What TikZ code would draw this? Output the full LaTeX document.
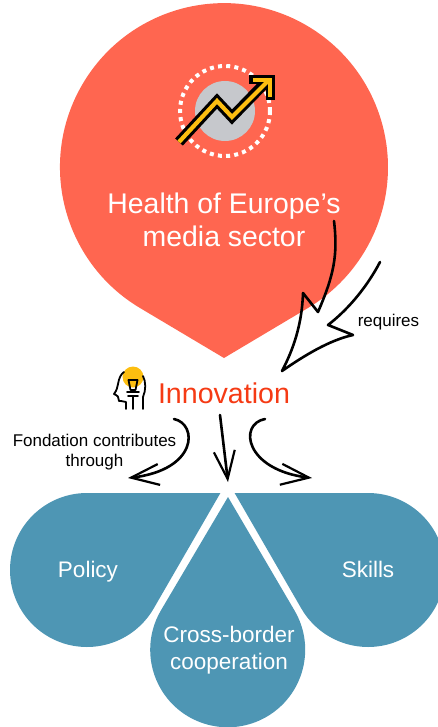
\documentclass[tikz,border=0pt]{standalone}
\usepackage{fontspec}
\setmainfont{Liberation Sans}
\usepackage{xcolor}
\usetikzlibrary{positioning,calc,arrows.meta}
\definecolor{healthred}{HTML}{FF6650}
\definecolor{dropblue}{HTML}{4E96B4}
\definecolor{innored}{HTML}{F53A14}
\definecolor{iconyellow}{HTML}{FDBE10}
\definecolor{icongrey}{HTML}{C6C8CC}

\begin{document}
\begin{tikzpicture}[
    x=1pt, y=-1pt,
    redtext/.style={text=white, align=center, font=\fontsize{28.4}{33}\selectfont},
    bluetext/.style={text=white, align=center, font=\fontsize{22.5}{27.5}\selectfont},
    blacktext/.style={text=black, align=center, font=\fontsize{17}{20.5}\selectfont},
    inktext/.style={text=innored, font=\fontsize{28.6}{34}\selectfont},
    blueDrop/.style={fill=dropblue},
    handline/.style={draw=black, line width=2.6pt, line cap=round, line join=round},
    handarrow/.style={handline, -{Straight Barb[length=28pt, width=21pt, line width=2.2pt]}},
    iconline/.style={draw=black, line width=1.8pt, line cap=round, line join=round}
]
    \clip (0,0) rectangle (438,727);

    % big red drop
    \fill[healthred] (224,358) -- (140,308) arc[start angle=120.8, delta angle=298.4, radius=164] -- cycle;

    % growth icon
    \fill[icongrey] (225,111) circle (30);
    \draw[white, line width=4pt, dash pattern=on 4pt off 4.2pt] (225,111) circle (45);
    \draw[black, line width=10.5pt, miter limit=10] (179,142) -- (217,101) -- (232,117) -- (266,82);
    \draw[black, line width=9pt] (249,80) -- (270,80) -- (270,100);
    \draw[iconyellow, line width=4.2pt, miter limit=10] (179,142) -- (217,101) -- (232,117) -- (268,81);
    \draw[iconyellow, line width=4.2pt] (253,80) -- (270,80) -- (270,97);

    \node[redtext] (health) at (224,219.5) {Health of Europe’s\\media sector};

    % three blue drops
    \fill[blueDrop] (220.4,493) -- (87,493) arc[start angle=270, delta angle=-240, radius=77] -- cycle;
    \fill[blueDrop] (234.6,493) -- (368,493) arc[start angle=270, delta angle=240, radius=77] -- cycle;
    \fill[blueDrop] (228,497) -- (294.8,611) arc[start angle=-30, delta angle=240, radius=77.5] -- cycle;

    \node[inktext, anchor=base] (innovation) at (224,403) {Innovation};
    \node[blacktext, anchor=base] (requires) at (388.5,326) {requires};
    \node[blacktext] (through) at (94.5,452) {Fondation contributes\\through};
    \node[bluetext, anchor=base] (policy) at (88,577) {Policy};
    \node[bluetext, anchor=base] (skills) at (368,577) {Skills};
    \node[bluetext] (cross) at (229,650) {Cross-border\\cooperation};

    % head with bulb
    \fill[iconyellow] (133,377) circle (10.5);
    \draw[iconline] (128.5,380) -- (137.5,380) -- (135.5,390) -- (130.5,390) -- cycle;
    \draw[iconline] (127,392) -- (139,392);
    \draw[iconline] (128,396) -- (138,396);
    \draw[iconline] (133,396) -- (133,409);
    \draw[iconline] (126,409) -- (126,402) -- (121,401) -- (119,401) .. controls (118,397) and (118,395) .. (116,395)
        -- (114,394) .. controls (117,390) and (117,388) .. (118,384) .. controls (119,378) and (121,374) .. (124,372);
    \draw[iconline] (143,409) -- (143,397) .. controls (146,390) and (146,382) .. (143,376);

    % requires arrow
    \coordinate (bigstart) at (334,221);
    \coordinate (bigneck) at (318,312);
    \coordinate (bigleft) at (303,293);
    \coordinate (bigtip) at (282,371);
    \coordinate (bigright) at (353,335);
    \coordinate (bignotch) at (328,325);
    \coordinate (bigend) at (380,262);
    \draw[handline] (bigstart) .. controls (338,255) and (334,275) .. (bigneck) -- (bigleft)
        .. controls (302,325) and (293,350) .. (bigtip)
        .. controls (305,355) and (330,340) .. (bigright) -- (bignotch)
        .. controls (350,308) and (368,285) .. (bigend);

    % Fondation arrows
    \coordinate (leftstart) at (174,419);
    \coordinate (lefttip) at (128,478);
    \coordinate (midstart) at (220,415);
    \coordinate (midtip) at (228,482);
    \coordinate (rightstart) at (265,419);
    \coordinate (righttip) at (312,478);
    \draw[handarrow] (leftstart) .. controls (198,424) and (198,470) .. (lefttip);
    \draw[handarrow] (midstart) -- (midtip);
    \draw[handarrow] (rightstart) .. controls (238,424) and (245,470) .. (righttip);
\end{tikzpicture}
\end{document}
